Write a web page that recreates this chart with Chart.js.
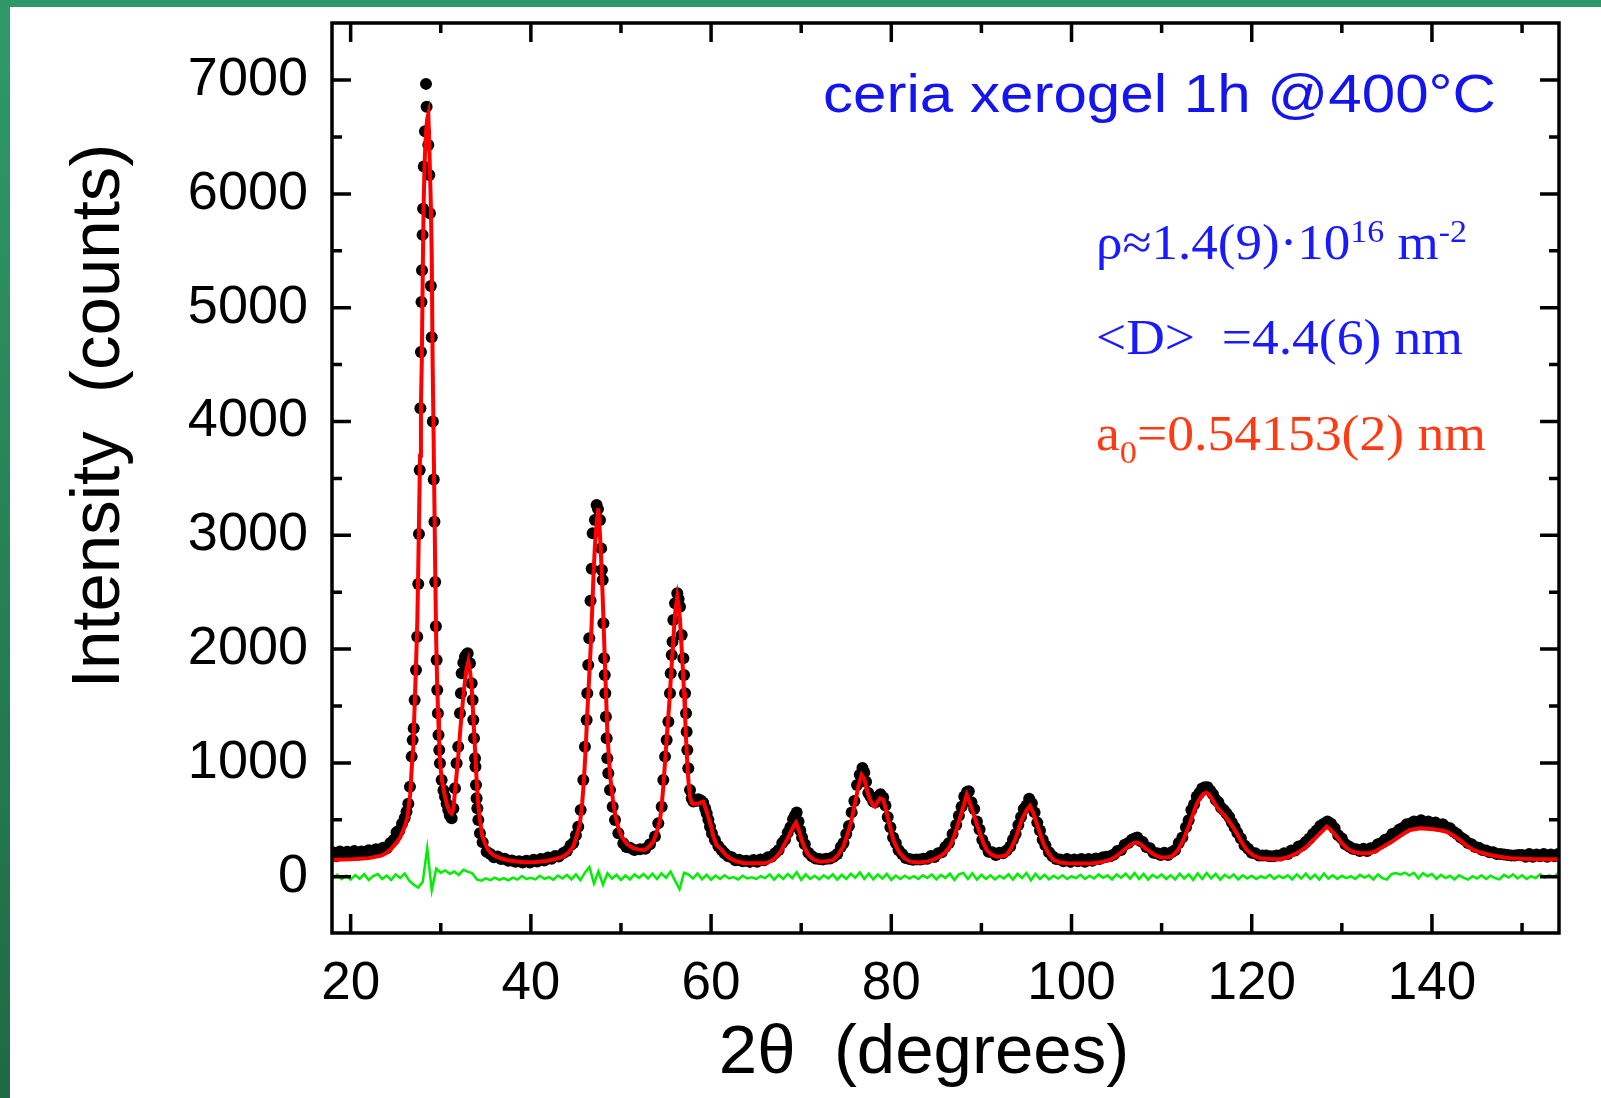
<!DOCTYPE html>
<html>
<head>
<meta charset="utf-8">
<script src="https://cdn.jsdelivr.net/npm/chart.js@4.4.1/dist/chart.umd.min.js"></script>
<style>
  html, body { margin: 0; padding: 0; background: #fff; }
  canvas { display: block; }
</style>
</head>
<body>
<canvas id="xrd" width="1601" height="1098"></canvas>
<script>
// ceria xerogel, 1h @ 400 C : observed counts, Rietveld fit and difference

const xMajor = [20, 40, 60, 80, 100, 120, 140];
const xMinor = [30, 50, 70, 90, 110, 130, 150];
const yMajor = [0, 1000, 2000, 3000, 4000, 5000, 6000, 7000];
const yMinor = [500, 1500, 2500, 3500, 4500, 5500, 6500];

// observed (black dots)
const obsTheta = [
  18.0, 18.4, 18.8, 19.2, 19.6, 20.0, 20.4, 20.8, 21.2, 21.6, 22.0, 22.4, 22.8, 23.2, 23.6, 24.0, 24.4, 24.8, 25.1, 25.4,
  25.7, 26.0, 26.2, 26.4, 26.58, 26.77, 26.88, 27.0, 27.1, 27.25, 27.39, 27.5, 27.58, 27.66, 27.74, 27.8, 27.86, 27.92, 27.98, 28.04,
  28.12, 28.25, 28.36, 28.43, 28.62, 28.73, 28.8, 28.9, 29.0, 29.12, 29.22, 29.3, 29.38, 29.46, 29.54, 29.61, 29.68, 29.75, 29.83, 29.91,
  30.1, 30.3, 30.47, 30.65, 30.83, 31.0, 31.21, 31.4, 31.58, 31.76, 31.94, 32.13, 32.24, 32.32, 32.5, 32.69, 32.85, 32.99, 33.24, 33.43,
  33.54, 33.61, 33.69, 33.8, 33.85, 33.91, 33.98, 34.06, 34.17, 34.35, 34.65, 35.09, 35.5, 35.9, 36.3, 36.7, 37.1, 37.5, 37.9, 38.3,
  38.7, 39.1, 39.5, 39.9, 40.3, 40.7, 41.1, 41.5, 41.9, 42.3, 42.7, 43.1, 43.6, 44.0, 44.4, 44.71, 45.0, 45.26, 45.53, 45.82,
  46.0, 46.19, 46.26, 46.37, 46.48, 46.62, 46.75, 46.86, 47.11, 47.3, 47.45, 47.67, 47.8, 47.88, 47.97, 48.05, 48.13, 48.2, 48.26, 48.33,
  48.41, 48.48, 48.59, 48.78, 49.08, 49.34, 49.71, 50.26, 50.6, 51.0, 51.5, 52.11, 52.7, 53.22, 53.77, 54.14, 54.52, 54.7, 54.89, 55.07,
  55.26, 55.44, 55.52, 55.63, 55.72, 55.81, 56.0, 56.25, 56.4, 56.55, 56.74, 56.92, 57.0, 57.11, 57.22, 57.29, 57.36, 57.47, 57.66, 57.85,
  58.03, 58.3, 58.58, 58.85, 59.13, 59.35, 59.51, 59.7, 59.88, 60.1, 60.43, 60.8, 61.17, 61.5, 61.91, 62.3, 62.7, 63.1, 63.5, 63.9,
  64.3, 64.7, 65.1, 65.5, 65.9, 66.3, 66.7, 67.1, 67.5, 67.9, 68.2, 68.5, 68.8, 69.1, 69.3, 69.5, 69.7, 69.9, 70.1, 70.4,
  70.8, 71.2, 71.6, 72.0, 72.4, 72.8, 73.2, 73.6, 74.0, 74.4, 74.7, 75.0, 75.3, 75.6, 75.9, 76.2, 76.5, 76.8, 77.0, 77.2,
  77.45, 77.7, 78.0, 78.25, 78.5, 78.8, 79.1, 79.35, 79.6, 79.9, 80.2, 80.5, 80.8, 81.2, 81.6, 82.0, 82.4, 82.8, 83.2, 83.6,
  84.0, 84.4, 84.8, 85.2, 85.6, 86.0, 86.4, 86.8, 87.2, 87.5, 87.8, 88.1, 88.4, 88.6, 88.9, 89.2, 89.5, 89.8, 90.1, 90.4,
  90.8, 91.2, 91.6, 92.0, 92.4, 92.8, 93.2, 93.5, 93.8, 94.1, 94.4, 94.7, 95.0, 95.3, 95.6, 95.9, 96.2, 96.5, 96.8, 97.1,
  97.5, 97.9, 98.3, 98.7, 99.1, 99.5, 99.9, 100.3, 100.7, 101.1, 101.5, 101.9, 102.3, 102.7, 103.1, 103.5, 103.9, 104.3, 104.7, 105.1,
  105.5, 105.9, 106.3, 106.7, 107.0, 107.3, 107.6, 107.9, 108.3, 108.7, 109.1, 109.5, 109.9, 110.3, 110.7, 111.1, 111.5, 111.9, 112.3, 112.7,
  113.0, 113.3, 113.6, 113.9, 114.2, 114.5, 114.8, 115.1, 115.4, 115.7, 116.0, 116.3, 116.6, 116.9, 117.2, 117.5, 117.8, 118.1, 118.4, 118.8,
  119.2, 119.6, 120.0, 120.4, 120.8, 121.2, 121.6, 122.0, 122.4, 122.8, 123.2, 123.6, 124.0, 124.4, 124.8, 125.2, 125.6, 126.0, 126.4, 126.8,
  127.2, 127.6, 128.0, 128.4, 128.8, 129.2, 129.6, 130.0, 130.4, 130.8, 131.2, 131.6, 132.0, 132.4, 132.8, 133.2, 133.6, 134.0, 134.4, 134.8,
  135.2, 135.6, 136.0, 136.4, 136.8, 137.2, 137.6, 138.0, 138.4, 138.8, 139.2, 139.6, 140.0, 140.4, 140.8, 141.2, 141.6, 142.0, 142.4, 142.8,
  143.2, 143.6, 144.0, 144.4, 144.8, 145.2, 145.6, 146.0, 146.4, 146.8, 147.2, 147.6, 148.0, 148.4, 148.8, 149.2, 149.6, 150.0, 150.4, 150.8,
  151.2, 151.6, 152.0, 152.4, 152.8, 153.2, 153.6, 154.0
];
const obsCounts = [
  215, 180, 222, 190, 218, 192, 225, 195, 222, 200, 232, 205, 240, 222, 255, 250, 295, 325, 390, 405,
  465, 515, 570, 640, 790, 1055, 1200, 1305, 1553, 1816, 2109, 2572, 3011, 3574, 4116, 4610, 5050, 5330, 5640, 5870,
  6240, 6550, 6967, 6766, 6430, 6166, 5830, 5190, 4740, 4000, 3490, 3120, 2590, 2200, 1904, 1641, 1436, 1245, 1113, 996,
  850, 760, 703, 640, 586, 540, 513, 600, 777, 996, 1142, 1436, 1611, 1787, 1880, 1933, 1950, 1963, 1875, 1699,
  1553, 1377, 1216, 1040, 967, 806, 689, 601, 498, 381, 302, 220, 200, 170, 178, 155, 158, 140, 142, 132,
  135, 125, 140, 124, 148, 134, 156, 142, 168, 158, 182, 178, 208, 225, 275, 295, 365, 439, 586, 850,
  1142, 1377, 1611, 1860, 2095, 2425, 2705, 3017, 3134, 3266, 3230, 3134, 2885, 2694, 2607, 2227, 1919, 1772, 1611, 1406,
  1216, 1040, 909, 762, 615, 498, 381, 293, 260, 255, 235, 240, 245, 284, 352, 469, 615, 850, 1055, 1201,
  1362, 1611, 1787, 1948, 2065, 2256, 2402, 2490, 2440, 2373, 2124, 1919, 1772, 1611, 1436, 1274, 1113, 952, 762, 690,
  660, 665, 680, 670, 650, 600, 557, 500, 439, 380, 322, 270, 235, 205, 180, 170, 145, 148, 135, 140,
  130, 146, 132, 150, 145, 170, 175, 205, 235, 295, 325, 385, 435, 505, 535, 565, 485, 405, 345, 285,
  210, 180, 160, 155, 152, 158, 160, 175, 200, 260, 295, 375, 445, 565, 665, 805, 895, 955, 915, 835,
  735, 705, 660, 655, 695, 725, 695, 625, 525, 435, 345, 295, 235, 200, 165, 155, 148, 152, 150, 158,
  158, 182, 172, 205, 215, 260, 295, 375, 455, 535, 615, 705, 745, 750, 655, 595, 485, 415, 325, 275,
  220, 215, 190, 210, 205, 230, 265, 325, 375, 455, 525, 595, 625, 685, 645, 565, 475, 405, 325, 275,
  215, 180, 155, 152, 135, 155, 130, 152, 135, 155, 132, 155, 140, 160, 155, 170, 175, 180, 195, 225,
  235, 280, 295, 325, 335, 345, 315, 305, 260, 250, 210, 205, 190, 210, 190, 215, 235, 295, 345, 435,
  495, 585, 635, 705, 735, 775, 785, 785, 755, 725, 675, 655, 605, 585, 555, 525, 475, 435, 385, 335,
  275, 245, 210, 205, 185, 185, 185, 180, 180, 185, 185, 205, 200, 230, 230, 265, 275, 305, 335, 375,
  405, 445, 465, 485, 465, 425, 365, 335, 285, 265, 245, 240, 225, 245, 225, 250, 255, 285, 295, 325,
  335, 375, 385, 415, 430, 460, 465, 485, 465, 495, 465, 485, 455, 475, 445, 460, 435, 425, 395, 375,
  345, 325, 295, 285, 260, 255, 235, 230, 215, 215, 200, 200, 195, 190, 185, 185, 190, 190, 175, 200,
  175, 195, 180, 200, 175, 195, 180, 200
];

// calculated profile (red line)
const calcTheta = [
  17.9, 19, 20, 21, 22, 23, 23.5, 24, 24.5, 25, 25.5, 26, 26.3, 26.6, 26.8, 26.95, 27.1, 27.25, 27.4, 27.5,
  27.6, 27.7, 27.8, 27.9, 28.0, 28.1, 28.2, 28.3, 28.4, 28.5, 28.62, 28.75, 28.9, 29.0, 29.1, 29.2, 29.3, 29.4, 29.5, 29.6,
  29.7, 29.8, 29.9, 30.0, 30.15, 30.4, 30.7, 31.0, 31.2, 31.39, 31.7, 31.94, 32.2, 32.5, 32.8, 33.06, 33.25, 33.43, 33.69, 33.98,
  34.15, 34.35, 34.6, 34.9, 35.3, 35.82, 36.5, 37.3, 38.2, 39.15, 40.5, 41.75, 42.7, 43.6, 44.2, 44.71, 45.1, 45.45, 45.7, 45.89,
  46.1, 46.26, 46.45, 46.64, 46.8, 46.93, 47.1, 47.3, 47.48, 47.6, 47.74, 47.85, 47.97, 48.1, 48.22, 48.35, 48.48, 48.65, 48.85, 49.1,
  49.34, 49.7, 50.08, 50.7, 51.37, 52.0, 52.66, 53.1, 53.59, 54.0, 54.33, 54.52, 54.7, 54.9, 55.14, 55.35, 55.52, 55.7, 55.88, 56.05,
  56.25, 56.4, 56.55, 56.7, 56.85, 57.0, 57.1, 57.23, 57.36, 57.5, 57.66, 57.85, 58.03, 58.4, 58.7, 59.0, 59.13, 59.4, 59.69, 60.0,
  60.25, 60.6, 61.17, 61.6, 62.1, 62.8, 63.57, 64.5, 65.3, 66.16, 66.8, 67.27, 67.8, 68.19, 68.6, 68.94, 69.2, 69.42, 69.7, 70.05,
  70.4, 70.79, 71.4, 72.08, 72.8, 73.56, 74.1, 74.67, 75.0, 75.41, 75.7, 75.97, 76.34, 76.71, 77.0, 77.3, 77.64, 78.0, 78.19, 78.5,
  78.75, 79.12, 79.4, 79.67, 79.95, 80.23, 80.6, 80.96, 81.5, 82.08, 83.0, 83.93, 84.7, 85.4, 86.0, 86.51, 87.0, 87.44, 87.99, 88.37,
  88.7, 89.1, 89.5, 89.84, 90.2, 90.58, 91.1, 91.69, 92.2, 92.8, 93.3, 93.73, 94.1, 94.47, 95.03, 95.39, 95.75, 96.14, 96.5, 96.87,
  97.4, 97.98, 98.7, 99.47, 101.0, 102.42, 103.3, 104.27, 104.8, 105.38, 106.0, 106.49, 106.9, 107.23, 107.6, 108.1, 108.71, 109.3, 109.82, 110.5,
  111.12, 111.8, 112.41, 113.0, 113.52, 113.9, 114.26, 114.6, 114.93, 115.3, 115.7, 116.11, 116.6, 117.22, 117.8, 118.33, 118.9, 119.44, 120.1, 120.92,
  122.0, 123.14, 123.9, 124.62, 125.4, 126.1, 126.8, 127.58, 128.32, 128.8, 129.43, 130.0, 130.54, 131.2, 132.02, 132.6, 133.13, 133.9, 134.61, 135.4,
  136.09, 136.8, 137.57, 138.68, 139.4, 140.16, 140.9, 141.64, 142.4, 143.11, 143.8, 144.59, 145.5, 146.45, 147.5, 148.67, 150.0, 151.25, 152.6, 154.1
];
const calcCounts = [
  148, 150, 152, 158, 163, 178, 190, 210, 245, 290, 345, 440, 520, 720, 980, 1140, 1500, 1850, 2250, 2700,
  3200, 3700, 4150, 4550, 5300, 5900, 6250, 6450, 6580, 6660, 6700, 6350, 5900, 5450, 4500, 3900, 3250, 2600, 2050, 1700,
  1450, 1230, 1050, 940, 840, 730, 630, 570, 555, 590, 850, 1055, 1320, 1582, 1800, 1889, 1800, 1670, 1289, 850,
  640, 498, 360, 293, 230, 191, 165, 147, 135, 126, 130, 138, 155, 176, 215, 264, 360, 469, 650, 850,
  1150, 1436, 1720, 2021, 2330, 2607, 2900, 3105, 3237, 3100, 2900, 2700, 2460, 2150, 1875, 1580, 1289, 1050, 850, 680,
  557, 430, 352, 285, 250, 238, 235, 262, 308, 400, 498, 630, 791, 1020, 1289, 1510, 1728, 1950, 2168, 2350,
  2460, 2380, 2256, 2050, 1845, 1620, 1436, 1200, 996, 830, 703, 650, 639, 640, 645, 658, 660, 600, 527, 440,
  352, 280, 235, 195, 160, 135, 120, 117, 118, 120, 145, 176, 230, 293, 350, 410, 450, 475, 420, 322,
  250, 191, 150, 132, 135, 147, 190, 264, 340, 439, 540, 645, 791, 894, 860, 760, 674, 625, 615, 660,
  689, 674, 590, 498, 410, 322, 255, 206, 160, 132, 125, 132, 150, 176, 215, 264, 360, 469, 615, 718,
  650, 557, 460, 381, 300, 235, 195, 176, 178, 191, 250, 322, 410, 498, 586, 621, 560, 469, 380, 293,
  210, 147, 125, 118, 115, 118, 128, 147, 170, 206, 245, 275, 295, 299, 290, 255, 220, 188, 170, 168,
  176, 230, 322, 440, 557, 640, 689, 725, 738, 720, 670, 615, 570, 513, 450, 381, 300, 235, 190, 162,
  155, 153, 168, 191, 225, 264, 320, 381, 439, 410, 352, 295, 250, 220, 206, 205, 206, 230, 264, 300,
  337, 375, 410, 425, 422, 417, 408, 395, 360, 322, 275, 235, 210, 191, 175, 162, 157, 153, 153, 153
];

// difference obs - calc (green line), one value every 0.5 deg from 18
const diffStart = 18;
const diffStep = 0.5;
const diffCounts = [
  -12, 18, -22, 10, -25, 14, -18, 22, -28, 6,
  24, -20, 10, -28, 20, -12, 28, -35, -70, -95,
  -45, 250, -120, 70, 35, 55, 25, 45, 15, 60,
  45, 30, -25, -35, -15, -30, -8, -28, -12, -32,
  -8, -26, 6, -20, -10, -24, 8, -20, -4, -26,
  10, -16, 16, -24, 20, -30, 35, 85, -60, 45,
  -70, 30, -18, 16, -28, 10, -24, 20, -10, 24,
  -16, 26, -20, 30, -10, 45, -35, -110, 35, 18,
  -16, 28, -24, 16, -26, 10, -20, 12, -16, -4,
  -24, 8, -16, -6, -20, 4, -12, 20, -26, 16,
  -20, 24, -12, 40, -28, 20, -20, 8, -24, 12,
  -16, 20, -26, 16, -20, 26, -10, 38, -20, 28,
  -24, 20, -16, 24, -28, 10, -20, 8, -16, 4,
  -20, 12, -12, 20, -24, 16, -10, 26, -28, 20,
  32, -20, 30, -26, 16, -20, 12, -24, 8, -16,
  20, -26, 24, -12, 32, -32, 26, -20, 16, -24,
  8, -16, 12, -20, 4, -12, 16, -20, 8, -16,
  20, -10, 12, -24, 20, -8, 26, -16, 32, -20,
  24, -26, 16, -12, 20, -20, 12, -24, 26, -16,
  20, -28, 30, -20, 32, -16, 24, -26, 16, -12,
  20, -24, 12, -16, 8, -20, 4, -12, 16, -20,
  8, -12, 12, -24, 20, -16, 26, -20, 16, -26,
  28, -16, 12, -20, 8, -12, 4, -20, 16, -8,
  12, -24, 20, -12, -26, 22, 32, 18, 36, 10,
  34, -14, 30, 4, 24, -20, 16, -12, 8, -24,
  12, -8, -26, 4, -16, 12, -20, 8, -12, -24,
  16, -8, 20, -16, 12, -20, 4, -12, 20, -8,
  12, -4, 30
];

const sans = '"Liberation Sans", Arial, sans-serif';
const serif = '"Liberation Serif", "Times New Roman", serif';

function pts(xs, ys) {
  return ys.map((v, i) => ({ x: xs[i], y: v }));
}

// green frame of the slide
const slideFrame = {
  id: 'slideFrame',
  beforeDraw(chart) {
    const ctx = chart.ctx;
    ctx.save();
    ctx.fillStyle = '#ffffff';
    ctx.fillRect(0, 0, chart.width, chart.height);
    const g = ctx.createLinearGradient(0, 0, 0, chart.height);
    g.addColorStop(0, '#2f9a68');
    g.addColorStop(1, '#1f6944');
    ctx.fillStyle = g;
    ctx.fillRect(0, 0, 10, chart.height);
    ctx.fillStyle = '#2f9868';
    ctx.fillRect(0, 0, chart.width, 7);
    ctx.restore();
  }
};

// box round the plot with inward ticks on all four sides
const boxTicks = {
  id: 'boxTicks',
  afterDatasetsDraw(chart) {
    const { ctx, chartArea: a, scales: { x, y } } = chart;
    ctx.save();
    ctx.strokeStyle = '#000';
    ctx.lineWidth = 3.5;
    ctx.lineCap = 'butt';
    ctx.beginPath();
    const xt = (v, len) => {
      const p = x.getPixelForValue(v);
      ctx.moveTo(p, a.bottom); ctx.lineTo(p, a.bottom - len);
      ctx.moveTo(p, a.top); ctx.lineTo(p, a.top + len);
    };
    const yt = (v, len) => {
      const p = y.getPixelForValue(v);
      ctx.moveTo(a.left, p); ctx.lineTo(a.left + len, p);
      ctx.moveTo(a.right, p); ctx.lineTo(a.right - len, p);
    };
    xMajor.forEach(v => xt(v, 19));
    xMinor.forEach(v => xt(v, 10));
    yMajor.forEach(v => yt(v, 19));
    yMinor.forEach(v => yt(v, 10));
    ctx.stroke();
    ctx.strokeRect(a.left, a.top, a.right - a.left, a.bottom - a.top);
    ctx.restore();
  }
};

// draws text pieces on one baseline, squeezed or stretched to a width
function fitRun(ctx, parts, x, base, width, color) {
  ctx.save();
  ctx.fillStyle = color;
  ctx.textBaseline = 'alphabetic';
  ctx.textAlign = 'left';
  let total = 0;
  parts.forEach(p => {
    ctx.font = p.size + 'px ' + p.family;
    total += ctx.measureText(p.t).width;
  });
  ctx.translate(x, base);
  ctx.scale(width / total, 1);
  let cx = 0;
  parts.forEach(p => {
    ctx.font = p.size + 'px ' + p.family;
    ctx.fillText(p.t, cx, p.dy || 0);
    cx += ctx.measureText(p.t).width;
  });
  ctx.restore();
}

const labels = {
  id: 'labels',
  afterDraw(chart) {
    const ctx = chart.ctx;
    ctx.save();
    ctx.fillStyle = '#000';
    ctx.font = '69px ' + sans;
    ctx.textAlign = 'center';
    ctx.textBaseline = 'alphabetic';
    ctx.fillText('2\u03b8  (degrees)', 924, 1073);

    ctx.translate(119, 416);
    ctx.rotate(-Math.PI / 2);
    ctx.font = '69px ' + sans;
    ctx.fillText('Intensity  (counts)', 0, 0);
    ctx.restore();

    fitRun(ctx, [{ t: 'ceria xerogel 1h @400\u00b0C', size: 53, family: '"Liberation Sans Narrow", ' + sans }],
      823, 112, 673, '#1414ee');

    fitRun(ctx, [
      { t: '\u03c1\u22481.4(9)\u00b710', size: 50, family: serif },
      { t: '16', size: 32, family: serif, dy: -17 },
      { t: ' m', size: 50, family: serif },
      { t: '-2', size: 32, family: serif, dy: -17 }
    ], 1096, 259, 371, '#1a1aff');

    fitRun(ctx, [{ t: '<D>  =4.4(6) nm', size: 50, family: serif }], 1096, 354, 367, '#1a1aff');

    fitRun(ctx, [
      { t: 'a', size: 50, family: serif },
      { t: '0', size: 32, family: serif, dy: 13 },
      { t: '=0.54153(2) nm', size: 50, family: serif }
    ], 1096, 450, 390, '#ff3b14');
  }
};

const ctx = document.getElementById('xrd').getContext('2d');

const chart = new Chart(ctx, {
  type: 'scatter',
  data: {
    datasets: [
      {
        label: 'observed',
        data: pts(obsTheta, obsCounts),
        showLine: false,
        pointRadius: 6,
        pointBackgroundColor: '#000',
        pointBorderWidth: 0,
        order: 3
      },
      {
        label: 'calculated',
        data: pts(calcTheta, calcCounts),
        showLine: true,
        borderColor: '#ff0000',
        borderWidth: 4,
        pointRadius: 0,
        tension: 0,
        order: 2
      },
      {
        label: 'difference',
        data: diffCounts.map((v, i) => ({ x: diffStart + i * diffStep, y: v })),
        showLine: true,
        borderColor: '#00ee00',
        borderWidth: 2.5,
        pointRadius: 0,
        tension: 0,
        order: 1
      }
    ]
  },
  options: {
    responsive: false,
    animation: false,
    devicePixelRatio: 1,
    layout: { padding: { left: 0, top: 23, right: 42, bottom: 0 } },
    plugins: {
      legend: { display: false },
      tooltip: { enabled: false }
    },
    scales: {
      x: {
        type: 'linear',
        position: 'bottom',
        min: 17.93,
        max: 154.1,
        grid: { display: false },
        border: { display: false },
        ticks: {
          color: '#000',
          font: { family: sans, size: 53 },
          padding: 12,
          maxRotation: 0,
          autoSkip: false,
          callback: v => String(v)
        },
        afterBuildTicks: s => { s.ticks = xMajor.map(v => ({ value: v })); },
        afterFit: s => { s.height = 165; s.paddingLeft = 0; s.paddingRight = 0; }
      },
      y: {
        type: 'linear',
        min: -495,
        max: 7502,
        grid: { display: false },
        border: { display: false },
        ticks: {
          color: '#000',
          font: { family: sans, size: 54 },
          padding: 16,
          autoSkip: false,
          callback: v => String(v)
        },
        afterBuildTicks: s => { s.ticks = yMajor.map(v => ({ value: v })); },
        afterFit: s => { s.width = 332; s.paddingTop = 0; s.paddingBottom = 0; }
      }
    }
  },
  plugins: [slideFrame, boxTicks, labels]
});
</script>
</body>
</html>
